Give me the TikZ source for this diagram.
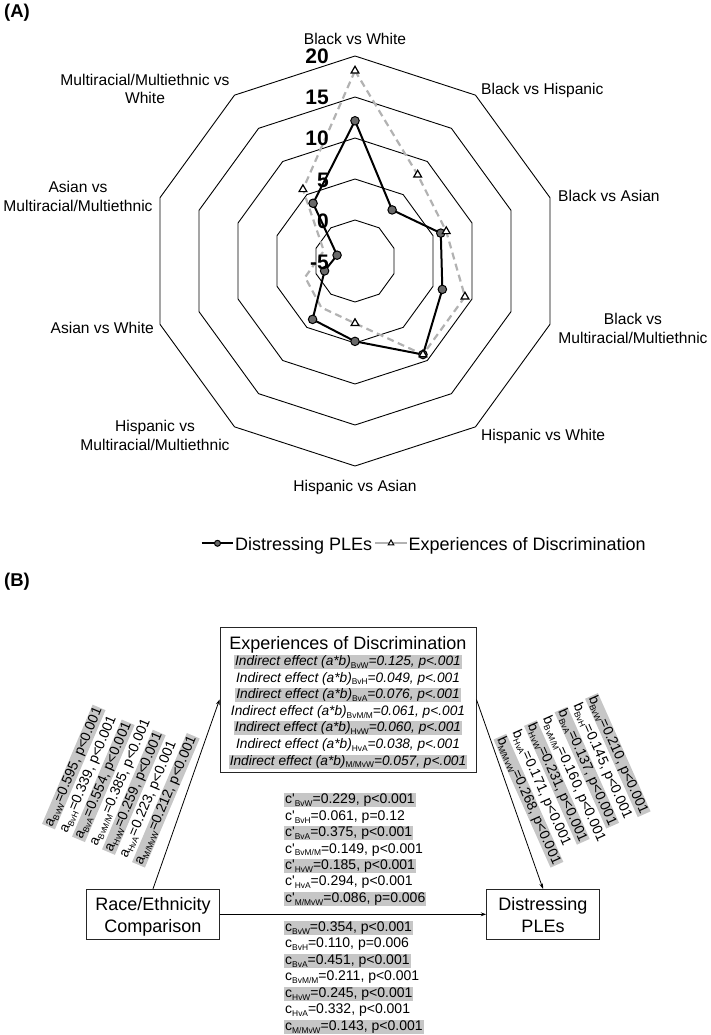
\documentclass[tikz,border=0pt]{standalone}
\usepackage{fontspec}
\setmainfont{Liberation Sans}
\usetikzlibrary{arrows.meta,shapes.geometric}
\definecolor{hlgray}{RGB}{198,198,198}
\definecolor{dashgray}{RGB}{178,178,178}
\definecolor{markgray}{RGB}{105,105,105}
\newcommand\sbs[1]{\raisebox{-0.2em}{\fontsize{8.4}{8.4}\selectfont\upshape #1}}
\newcommand\cq{c\textquotesingle}
\begin{document}
\begin{tikzpicture}[x=1pt,y=-1pt,
  ring/.style={line width=0.9pt, black},
  pleline/.style={line width=2pt, black, line join=round},
  discline/.style={line width=2.2pt, dashgray, dash pattern=on 7pt off 4.5pt},
  plemark/.style={circle, draw=black, fill=markgray, line width=1pt, minimum size=8.5pt, inner sep=0pt},
  discmark/.style={regular polygon, regular polygon sides=3, draw=black, fill=white, line width=1.2pt, minimum size=9pt, inner sep=0pt},
  axlbl/.style={font=\fontsize{15.6}{18.5}\selectfont, inner sep=0pt},
  ringlbl/.style={font=\bfseries\fontsize{21}{21}\selectfont, inner sep=0pt, anchor=base east},
  panel/.style={font=\bfseries\fontsize{18.5}{18.5}\selectfont, inner sep=0pt, anchor=base west},
  legtxt/.style={font=\fontsize{18}{18}\selectfont, inner sep=0pt, anchor=base west},
  boxx/.style={draw=black!85, line width=0.9pt, inner sep=0pt, fill=white},
  boxtxt/.style={font=\fontsize{18}{18}\selectfont, inner sep=0pt, anchor=base},
  eline/.style={font=\itshape\fontsize{13.7}{13.7}\selectfont, inner xsep=1pt, inner ysep=0.4pt, text height=10.2pt, text depth=3pt, anchor=base},
  cline/.style={font=\fontsize{14}{14}\selectfont, inner xsep=1pt, inner ysep=0.4pt, text height=10.2pt, text depth=3pt, anchor=base west},
  rline/.style={font=\fontsize{14}{14}\selectfont, inner xsep=1pt, inner ysep=0.4pt, text height=10.2pt, text depth=3pt, anchor=west},
  hlalt/.code={\ifodd#1\relax\pgfkeysalso{/tikz/fill=hlgray}\fi},
  arr/.style={-{Stealth[length=5.5pt,width=3.8pt]}, line width=0.8pt, black}]
\useasboundingbox (0,0) rectangle (711,1035);

% ---------- Panel A ----------
\node[panel] (pA) at (4,18) {(A)};

\begin{scope}[shift={(355,261)}, y=1pt]
  \foreach \r in {41,82,123,164,205}
    \draw[ring] (90:\r) \foreach \k in {1,...,9}{ -- ({90-36*\k}:\r)} -- cycle;
  \foreach \v [count=\k from 0] in {12.1,2.7,6.0,6.2,9.1,4.8,3.8,-1.1,-2.7,3.7}
    \coordinate (p\k) at ({90-36*\k}:{(\v+5)*8.2});
  \foreach \v [count=\k from 0] in {18.2,8.0,6.7,9.1,9.1,2.6,2.0,1.4,-1.0,5.8}
    \coordinate (d\k) at ({90-36*\k}:{(\v+5)*8.2});
\end{scope}

\draw[discline] (d0) -- (d1) -- (d2) -- (d3) -- (d4) -- (d5) -- (d6) -- (d7) -- (d8) -- (d9) -- cycle;
\draw[pleline] (p0) -- (p1) -- (p2) -- (p3) -- (p4) -- (p5) -- (p6) -- (p7) -- (p8) -- (p9) -- cycle;
\foreach \k in {0,...,9} \node[plemark] (pm\k) at (p\k) {};
\foreach \k in {0,1,2,3,4,5,9} \node[discmark] (dm\k) at (d\k) {};

\node[ringlbl] (r20) at (329,64) {20};
\node[ringlbl] (r15) at (329,105) {15};
\node[ringlbl] (r10) at (329,146) {10};
\node[ringlbl] (r5)  at (329,187) {5};
\node[ringlbl] (r0)  at (329,228) {0};
\node[ringlbl] (rm5) at (329,269) {-5};

\node[axlbl, anchor=base] (lBW) at (355,45) {Black vs White};
\node[axlbl, anchor=base west] (lBH) at (481,95) {Black vs Hispanic};
\node[axlbl, anchor=base west] (lBA) at (558,201.6) {Black vs Asian};
\node[axlbl, anchor=base] (lBM1) at (633,324.7) {Black vs};
\node[axlbl, anchor=base] (lBM2) at (633,343.5) {Multiracial/Multiethnic};
\node[axlbl, anchor=base west] (lHW) at (481,440.9) {Hispanic vs White};
\node[axlbl, anchor=base] (lHA) at (355,491.2) {Hispanic vs Asian};
\node[axlbl, anchor=base] (lHM1) at (155,431.9) {Hispanic vs};
\node[axlbl, anchor=base] (lHM2) at (155,450.5) {Multiracial/Multiethnic};
\node[axlbl, anchor=base east] (lAW) at (154,333.6) {Asian vs White};
\node[axlbl, anchor=base] (lAM1) at (78,192.6) {Asian vs};
\node[axlbl, anchor=base] (lAM2) at (78,211.3) {Multiracial/Multiethnic};
\node[axlbl, anchor=base] (lMW1) at (145,85.5) {Multiracial/Multiethnic vs};
\node[axlbl, anchor=base] (lMW2) at (145,104) {White};

% legend
\coordinate (lgA1) at (201.7,543.3);
\coordinate (lgA2) at (233.3,543.3);
\draw[pleline] (lgA1) -- (lgA2);
\node[plemark, minimum size=6pt] (lgAm) at (217.5,543.3) {};
\node[legtxt] (lgAt) at (235,550) {Distressing PLEs};
\coordinate (lgB1) at (375,543.3);
\coordinate (lgB2) at (406.7,543.3);
\draw[line width=2.2pt, dashgray] (lgB1) -- (lgB2);
\node[discmark, minimum size=6.5pt, line width=1pt] (lgBm) at (391,543.3) {};
\node[legtxt] (lgBt) at (408.3,550) {Experiences of Discrimination};

% ---------- Panel B ----------
\node[panel] (pB) at (4,586) {(B)};

\node[boxx, minimum width=256pt, minimum height=145pt] (exp) at (348,699.5) {};
\node[boxx, minimum width=132.3pt, minimum height=50pt] (race) at (153,914.3) {};
\node[boxx, minimum width=112.6pt, minimum height=50pt] (dist) at (543,914.3) {};

\draw[arr] (race.north) -- (exp.west);
\draw[arr] (exp.east) -- (dist.north);
\draw[arr] (race.east) -- (dist.west);

\node[boxtxt] (expT) at (348,649) {Experiences of Discrimination};
\node[boxtxt] (race1) at (153,910.7) {Race/Ethnicity};
\node[boxtxt] (race2) at (153,932.7) {Comparison};
\node[boxtxt] (dist1) at (543,910) {Distressing};
\node[boxtxt] (dist2) at (543,932.3) {PLEs};

\foreach \t [count=\k] in {
  {Indirect effect (a*b)\sbs{BvW}=0.125, p<.001},
  {Indirect effect (a*b)\sbs{BvH}=0.049, p<.001},
  {Indirect effect (a*b)\sbs{BvA}=0.076, p<.001},
  {Indirect effect (a*b)\sbs{BvM/M}=0.061, p<.001},
  {Indirect effect (a*b)\sbs{HvW}=0.060, p<.001},
  {Indirect effect (a*b)\sbs{HvA}=0.038, p<.001},
  {Indirect effect (a*b)\sbs{M/MvW}=0.057, p<.001}}
  \node[eline, hlalt=\k] (ie\k) at (348,{665.5+(\k-1)*16.6}) {\t};

\foreach \t [count=\k] in {
  {\cq\sbs{BvW}=0.229, p<0.001},
  {\cq\sbs{BvH}=0.061, p=0.12},
  {\cq\sbs{BvA}=0.375, p<0.001},
  {\cq\sbs{BvM/M}=0.149, p<0.001},
  {\cq\sbs{HvW}=0.185, p<0.001},
  {\cq\sbs{HvA}=0.294, p<0.001},
  {\cq\sbs{M/MvW}=0.086, p=0.006}}
  \node[cline, hlalt=\k] (cp\k) at (284,{803.8+(\k-1)*16.4}) {\t};

\foreach \t [count=\k] in {
  {c\sbs{BvW}=0.354, p<0.001},
  {c\sbs{BvH}=0.110, p=0.006},
  {c\sbs{BvA}=0.451, p<0.001},
  {c\sbs{BvM/M}=0.211, p<0.001},
  {c\sbs{HvW}=0.245, p<0.001},
  {c\sbs{HvA}=0.332, p<0.001},
  {c\sbs{M/MvW}=0.143, p<0.001}}
  \node[cline, hlalt=\k] (c\k) at (284,{931.2+(\k-1)*16.55}) {\t};

\foreach \t [count=\k] in {
  {a\sbs{BvW}=0.595, p<0.001},
  {a\sbs{BvH}=0.339, p<0.001},
  {a\sbs{BvA}=0.554, p<0.001},
  {a\sbs{BvM/M}=0.385, p<0.001},
  {a\sbs{HvW}=0.259, p<0.001},
  {a\sbs{HvA}=0.223, p<0.001},
  {a\sbs{M/MvW}=0.212, p<0.001}}
  \node[rline, hlalt=\k, rotate=67] (a\k) at ({93.4-(4-\k)*15.0},{845.9-(4-\k)*6.37}) {\t};

\foreach \t [count=\k] in {
  {b\sbs{BvW}=0.210, p<0.001},
  {b\sbs{BvH}=0.145, p<0.001},
  {b\sbs{BvA}=0.137, p<0.001},
  {b\sbs{BvM/M}=0.160, p<0.001},
  {b\sbs{HvW}=0.231, p<0.001},
  {b\sbs{HvA}=0.171, p<0.001},
  {b\sbs{M/MvW}=0.268, p<0.001}}
  \node[rline, hlalt=\k, rotate=-66] (b\k) at ({545.6+(4-\k)*15.26},{716.1-(4-\k)*6.79}) {\t};
\end{tikzpicture}
\end{document}
